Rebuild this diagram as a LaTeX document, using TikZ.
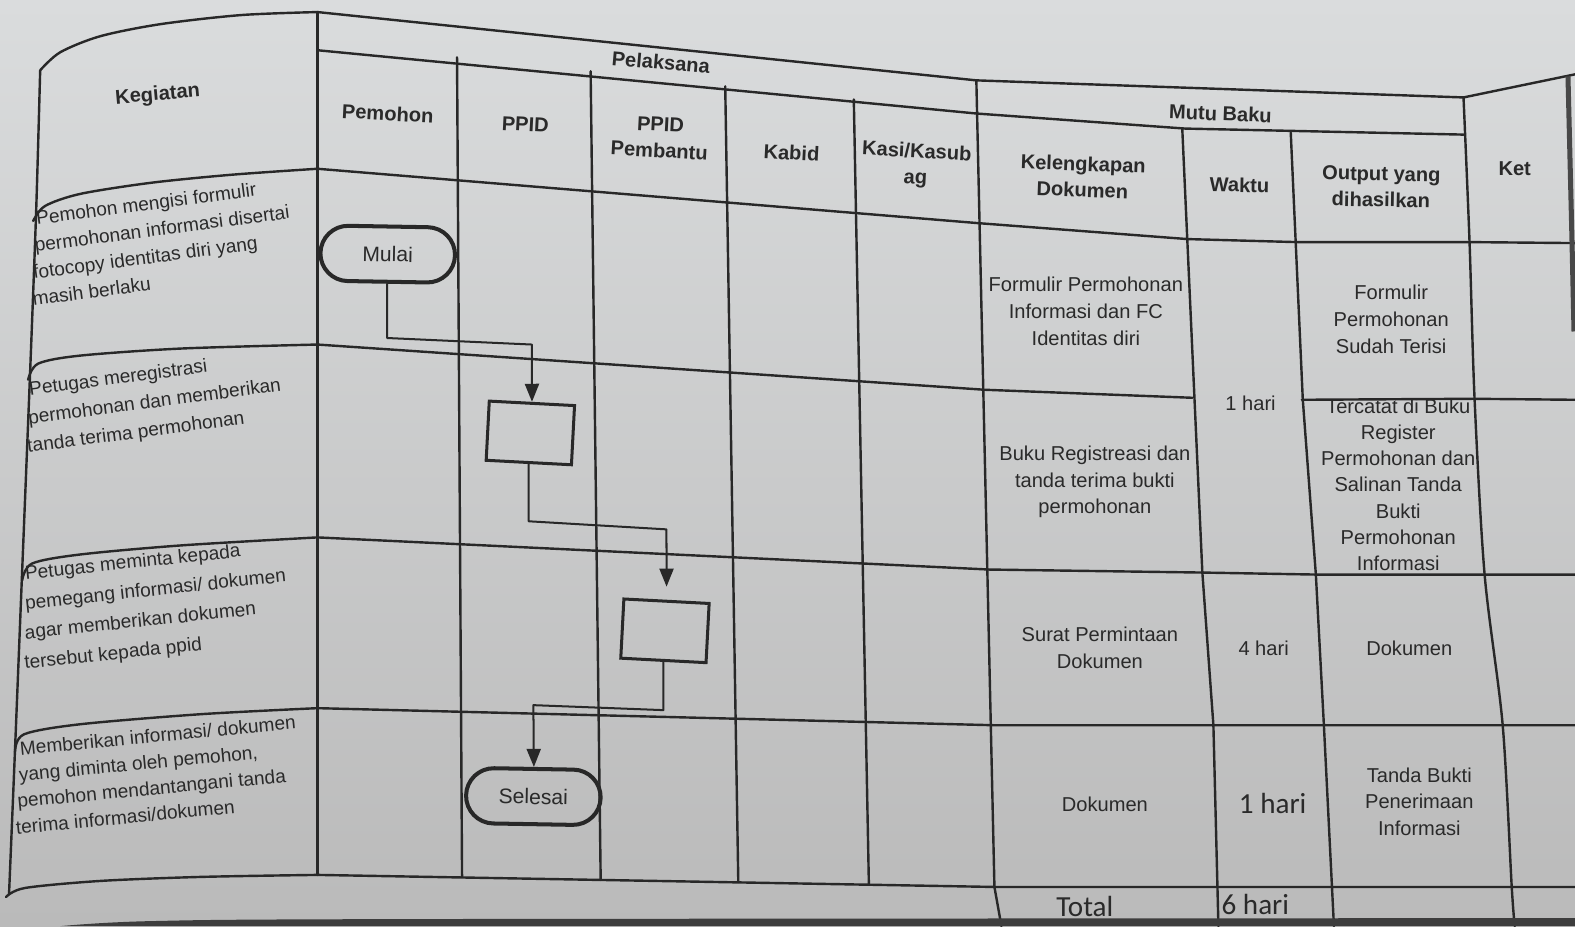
\documentclass[tikz,border=0pt]{standalone}
\usepackage{fontspec}
\setmainfont{Liberation Sans}
\newfontfamily\calib{Carlito}
\usetikzlibrary{arrows.meta,shapes.misc}
\definecolor{linec}{RGB}{40,40,40}
\definecolor{txtc}{RGB}{42,42,42}
\definecolor{bgtop}{RGB}{218,220,221}
\definecolor{bgbot}{RGB}{186,186,186}
\begin{document}
\begin{tikzpicture}[x=1pt,y=-1pt,
  grid/.style={line width=2.4pt, draw=linec, line join=round, line cap=round},
  hdr/.style={font=\fontsize{20}{26}\selectfont\bfseries, text=txtc, align=center, inner sep=0pt},
  cell/.style={font=\fontsize{20}{26.5}\selectfont, text=txtc, align=center, inner sep=0pt},
  keg/.style={text=txtc, anchor=north west, align=left, inner sep=0pt},
  calibtxt/.style={font=\calib\fontsize{29}{32}\selectfont, text=txtc, inner sep=0pt},
  term/.style={rounded rectangle, draw=linec, line width=4pt, minimum width=134pt, minimum height=55pt, inner sep=0pt, font=\fontsize{21}{24}\selectfont, text=txtc},
  procbox/.style={rectangle, draw=linec, line width=3pt, minimum width=85pt, minimum height=59pt, inner sep=0pt},
  flow/.style={line width=2pt, draw=linec, line join=round},
  arr/.style={flow, -{Triangle[width=14pt,length=18pt]}}
]
\shade[top color=bgtop, bottom color=bgbot] (0,0) rectangle (1568,922);
\useasboundingbox (0,0) rectangle (1568,922);

% ---------- horizontal lines ----------
\draw[grid] plot[smooth] coordinates {(40,70) (60,52) (100,36) (160,24) (240,15) (316,12)};
\draw[grid] (316,12) -- (972,80) -- (1457,97);
\draw[grid] plot[smooth] coordinates {(1457,97) (1510,86) (1568,74)};

\draw[grid] (316,50) -- (972,113) -- (1180,128) -- (1457,134);

\draw[grid] plot[smooth] coordinates {(33,220) (45,205) (80,193) (150,182) (230,174) (316,168)};
\draw[grid] (316,168) -- (972,222) -- (1182,238) -- (1290,241) -- (1462,241) -- (1568,242);

\draw[grid] plot[smooth] coordinates {(28,378) (38,362) (80,354) (180,347) (316,343)};
\draw[grid] (316,343) -- (980,388) -- (1187,396);
\draw[grid] (1296,398) -- (1467,397) -- (1568,398);

\draw[grid] plot[smooth] coordinates {(22,578) (32,561) (80,552) (180,543) (316,535)};
\draw[grid] (316,535) -- (985,567) -- (1197,570) -- (1310,572) -- (1476,572) -- (1568,572);

\draw[grid] plot[smooth] coordinates {(15,748) (24,731) (80,721) (200,711) (316,705)};
\draw[grid] (316,705) -- (990,722) -- (1568,722);

\draw[grid] plot[smooth] coordinates {(6,893) (25,884) (100,877) (200,873) (316,871)};
\draw[grid] (316,871) -- (990,883) -- (1568,883);

% ---------- vertical lines ----------
\draw[grid] plot[smooth] coordinates {(40,70) (36,210) (30,370) (22,570) (15,745) (9,890)};
\draw[grid] (316,12) -- (316,871);
\draw[grid] (455,57) -- (460,873);
\draw[grid] (588,71) -- (598,876);
\draw[grid] (722,86) -- (735,878);
\draw[grid] (850,99) -- (865,880);
\draw[grid] (972,80) -- (990,883) -- (997,922);
\draw[grid] (1177,128) -- (1197,570) -- (1208,722) -- (1213,922);
\draw[grid] (1285,132) -- (1297,398) -- (1310,572) -- (1318,722) -- (1328,922);
\draw[grid] plot[smooth] coordinates {(1457,97) (1463,241) (1468,397) (1478,572) (1496,722) (1505,883) (1508,922)};
\draw[line width=5pt, draw=linec!85] (1561,76) -- (1565,240) -- (1567,330);

% bottom dark edge
\fill[linec!90] plot[smooth] coordinates {(60,922) (150,917) (400,915) (1568,914)} -- (1568,922) -- cycle;

% ---------- header texts ----------
\node[hdr, rotate=5] (tkeg) at (157,95) {Kegiatan};
\node[hdr, rotate=-5] (tpel) at (658,62) {Pelaksana};
\node[hdr, rotate=-3] (tpem) at (386,113) {Pemohon};
\node[hdr, rotate=-3] (tppid) at (523,124) {PPID};
\node[hdr, rotate=-3] (tppidp) at (657,137) {PPID\\Pembantu};
\node[hdr, rotate=-3] (tkab) at (788,152) {Kabid};
\node[hdr, rotate=-3] (tkasi) at (912,165) {Kasi/Kasub\\ag};
\node[hdr, rotate=-2] (tmutu) at (1215,113) {Mutu Baku};
\node[hdr, rotate=-2] (tkel) at (1078,176) {Kelengkapan\\Dokumen};
\node[hdr, rotate=-1] (twak) at (1234,184) {Waktu};
\node[hdr, rotate=-1] (tout) at (1375,186) {Output yang\\dihasilkan};
\node[hdr] (tket) at (1508,168) {Ket};

% ---------- kegiatan texts ----------
\node[keg, rotate=7.5, font=\fontsize{19}{26.5}\selectfont] (k1) at (35,210)
  {Pemohon mengisi formulir\\\hspace*{-5pt}permohonan informasi disertai\\\hspace*{-10pt}fotocopy identitas diri yang\\\hspace*{-14pt}masih berlaku};
\node[keg, rotate=7.5, font=\fontsize{19}{28}\selectfont] (k2) at (28,380)
  {Petugas meregistrasi\\\hspace*{-4.7pt}permohonan dan memberikan\\\hspace*{-9.3pt}tanda terima permohonan};
\node[keg, rotate=6, font=\fontsize{19}{29.5}\selectfont] (k3) at (24,563)
  {Petugas meminta kepada\\\hspace*{-3pt}pemegang informasi/ dokumen\\\hspace*{-6.5pt}agar memberikan dokumen\\\hspace*{-10pt}tersebut kepada ppid};
\node[keg, rotate=5.5, font=\fontsize{19}{26}\selectfont] (k4) at (19,738)
  {Memberikan informasi/ dokumen\\\hspace*{-3.5pt}yang diminta oleh pemohon,\\\hspace*{-7.5pt}pemohon mendantangani tanda\\\hspace*{-11.5pt}terima informasi/dokumen};

% ---------- mutu baku cells ----------
\node[cell] (c11) at (1081,310) {Formulir Permohonan\\Informasi dan FC\\Identitas diri};
\node[cell] (c1w) at (1245,402) {1 hari};
\node[cell] (c1o) at (1385,318) {Formulir\\Permohonan\\Sudah Terisi};
\node[cell] (c21) at (1090,480) {Buku Registreasi dan\\tanda terima bukti\\permohonan};
\begin{scope}
\clip (1296,399) -- (1467,398) -- (1476,571) -- (1310,571) -- cycle;
\node[cell, anchor=north, font=\fontsize{20}{26}\selectfont] (c2o) at (1392,397) {Tercatat di Buku\\Register\\Permohonan dan\\Salinan Tanda\\Bukti\\Permohonan\\Informasi};
\end{scope}
\node[cell] (c31) at (1095,645) {Surat Permintaan\\Dokumen};
\node[cell] (c3w) at (1258,645) {4 hari};
\node[cell] (c3o) at (1403,645) {Dokumen};
\node[cell] (c41) at (1100,801) {Dokumen};
\node[calibtxt] (c4w) at (1267,800) {1 hari};
\node[cell] (c4o) at (1413,798) {Tanda Bukti\\Penerimaan\\Informasi};
\node[calibtxt] (ctot) at (1080,902) {Total};
\node[calibtxt, anchor=west] (ctotw) at (1216,900) {6 hari};

% ---------- flowchart ----------
\node[term, rotate=-1] (mulai) at (386,253) {Mulai};
\node[procbox, rotate=-3] (b1) at (528,431) {};
\node[procbox, rotate=-3] (b2) at (662,628) {};
\node[term, rotate=-1] (selesai) at (531,793) {Selesai};

\coordinate (m2) at (529.5,343);
\draw[arr] (mulai.south) -- ++(0,54) -- (m2) -- (b1.north);

\coordinate (p2) at (663.5,527);
\draw[arr, shorten >=13pt] (b1.south) -- ++(0,57) -- (p2) -- (b2.north);

\coordinate (q2) at (531,702);
\draw[arr] (b2.south) -- ++(0,48) -- (q2) -- (selesai.north);
\end{tikzpicture}
\end{document}
